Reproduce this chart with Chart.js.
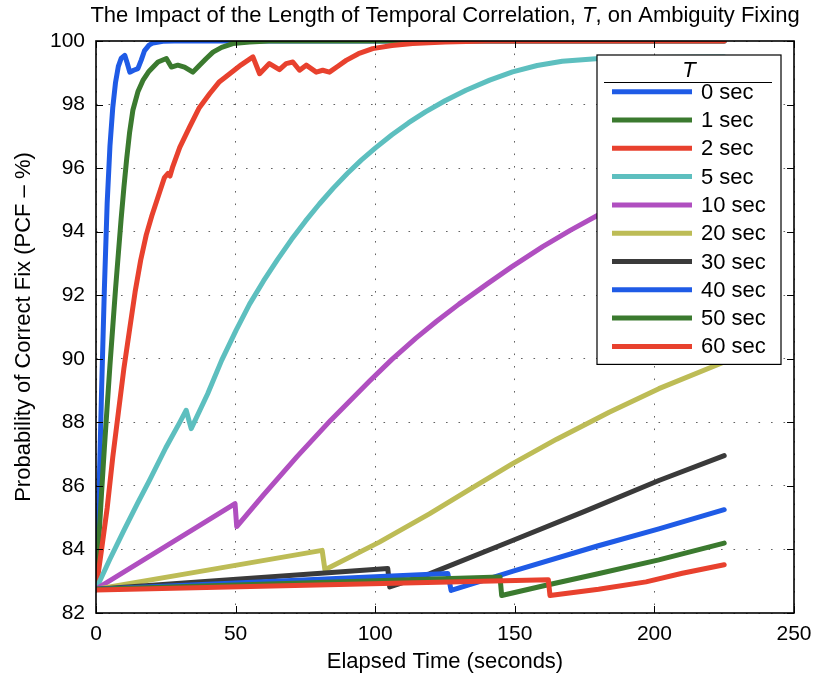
<!DOCTYPE html>
<html>
<head>
<meta charset="utf-8">
<script src="https://cdn.jsdelivr.net/npm/chart.js@4.4.1/dist/chart.umd.min.js"></script>
<style>
  html, body { margin: 0; padding: 0; background: #ffffff; }
  #wrap { width: 814px; height: 679px; }
</style>
</head>
<body>
<div id="wrap"><canvas id="chart" width="814" height="679"></canvas></div>
<script>
// Chart text
const titleParts = ['The Impact of the Length of Temporal Correlation, ', 'T', ', on Ambiguity Fixing'];
const xAxisTitle = 'Elapsed Time (seconds)';
const yAxisTitle = 'Probability of Correct Fix (PCF \u2013 %)';
const legendTitle = 'T';

// Tick values
const xTicks = [0, 50, 100, 150, 200, 250];
const yTicks = [82, 84, 86, 88, 90, 92, 94, 96, 98, 100];

// Correlation lengths (legend entries)
const seriesLabels = ['0 sec', '1 sec', '2 sec', '5 sec', '10 sec', '20 sec', '30 sec', '40 sec', '50 sec', '60 sec'];

// PCF (%) against elapsed time (s), as [time, pcf] pairs
const pcfT0 = [[0,82.75],[1,85.5],[2,89.0],[3,92.2],[4,94.9],[5,96.7],[6,97.9],[7,98.7],[8,99.2],[9,99.45],[10.3,99.55],[11.2,99.3],[12.1,99.02],[13.5,99.08],[15,99.13],[16.2,99.4],[17.4,99.7],[19,99.87],[20.4,99.94],[24,99.99],[28,100],[225,100]];
const pcfT1 = [[0,82.75],[1,84.3],[2,85.8],[3,87.2],[4,88.5],[5,89.8],[6,91.0],[7,92.2],[8,93.3],[9,94.4],[10,95.4],[11,96.3],[12,97.1],[13.2,97.82],[15,98.4],[16.8,98.76],[19,99.05],[22.2,99.34],[25.2,99.45],[27,99.18],[29.3,99.24],[31.7,99.18],[34.7,99.02],[37.1,99.24],[39.5,99.45],[41.9,99.65],[45,99.8],[49,99.92],[55,99.97],[62,100],[225,100]];
const pcfT2 = [[0,82.75],[2,84.0],[4,85.3],[6,86.9],[8,88.3],[10,89.7],[12,90.9],[14,92.1],[16,93.1],[18,93.9],[20,94.5],[22.8,95.25],[24.5,95.7],[25.8,95.83],[26.5,95.75],[27.5,96.05],[30,96.65],[33.5,97.29],[37,97.9],[40.7,98.34],[44,98.7],[47.9,98.97],[52,99.25],[56.2,99.5],[58.6,98.97],[62.1,99.29],[65.7,99.1],[68.1,99.29],[70.5,99.34],[72.9,99.08],[75.3,99.24],[78.9,99.02],[81.2,99.08],[83.6,99.02],[86.5,99.2],[89.6,99.39],[94,99.6],[99.1,99.76],[106,99.86],[113.4,99.92],[125,99.97],[140,100],[225,100]];
const pcfT5 = [[0,82.75],[5,83.7],[10,84.6],[15,85.47],[19.2,86.18],[25,87.2],[30,88.0],[32.3,88.38],[34.1,87.8],[40,88.9],[45,89.95],[50.2,90.9],[55,91.72],[60,92.45],[65,93.12],[70,93.75],[75,94.33],[80,94.87],[85,95.37],[90,95.83],[95,96.25],[100,96.63],[106,97.05],[112,97.43],[118,97.77],[125,98.12],[132.5,98.45],[141,98.77],[149.2,99.03],[158,99.23],[167,99.36],[179,99.44],[192,99.47],[210,99.49],[225,99.5]];
const pcfT10 = [[0,82.75],[49.8,85.44],[50.4,84.72],[60,85.72],[72,86.92],[84,88.06],[98,89.3],[106,89.98],[114.6,90.65],[122,91.18],[130,91.72],[140,92.35],[149,92.9],[160,93.53],[170,94.05],[179.4,94.5],[200,95.42],[225,96.45]];
const pcfT20 = [[0,82.75],[40,83.35],[81,83.97],[82,83.36],[101.5,84.23],[119.4,85.12],[134,85.9],[149.2,86.7],[165,87.47],[183.8,88.32],[201.6,89.06],[225,89.9]];
const pcfT30 = [[0,82.75],[104.5,83.4],[105.2,82.82],[119.4,83.23],[149.2,84.28],[175,85.2],[201.6,86.17],[225,86.95]];
const pcfT40 = [[0,82.75],[126,83.24],[127.2,82.71],[150,83.33],[179.3,84.1],[201.6,84.65],[225,85.25]];
const pcfT50 = [[0,82.75],[144.7,83.13],[145.3,82.55],[160,82.85],[179,83.22],[201.6,83.67],[225,84.2]];
const pcfT60 = [[0,82.72],[162,83.05],[162.6,82.55],[180,82.75],[197,82.98],[210,83.25],[225,83.52]];

const seriesData = [pcfT0, pcfT1, pcfT2, pcfT5, pcfT10, pcfT20, pcfT30, pcfT40, pcfT50, pcfT60];
const seriesColors = ['#1f5be6', '#3b7a2f', '#e8412e', '#5dbfbf', '#b04fc0', '#bdbc56', '#3a3a3a', '#1f5be6', '#3b7a2f', '#e8412e'];

const FONT = "'Liberation Sans', Arial, Helvetica, sans-serif";
Chart.defaults.font.family = FONT;
Chart.defaults.font.size = 21;
Chart.defaults.color = '#000000';

// Box around the axes with inward tick marks on all four sides
const axesFrame = {
  id: 'axesFrame',
  afterDatasetsDraw(chart) {
    const { ctx, chartArea: a, scales: { x, y } } = chart;
    ctx.save();
    ctx.strokeStyle = '#000000';
    ctx.lineWidth = 1;
    const len = 7;
    ctx.beginPath();
    xTicks.forEach(v => {
      const px = Math.round(x.getPixelForValue(v)) + 0.5;
      ctx.moveTo(px, a.bottom); ctx.lineTo(px, a.bottom - len);
      ctx.moveTo(px, a.top); ctx.lineTo(px, a.top + len);
    });
    yTicks.forEach(v => {
      const py = Math.round(y.getPixelForValue(v)) + 0.5;
      ctx.moveTo(a.left, py); ctx.lineTo(a.left + len, py);
      ctx.moveTo(a.right, py); ctx.lineTo(a.right - len, py);
    });
    ctx.stroke();
    ctx.lineWidth = 1.6;
    ctx.strokeRect(a.left, a.top, a.right - a.left, a.bottom - a.top);
    ctx.restore();
  }
};

// Boxed legend in the upper right of the plot, titled with an italic T
const boxLegend = {
  id: 'boxLegend',
  afterDatasetsDraw(chart) {
    const { ctx, chartArea: a } = chart;
    const right = a.right - 13;
    const top = a.top + 14;
    const width = 184;
    const rowH = 28.3;
    const firstRow = 36.7;
    const height = firstRow + rowH * (seriesLabels.length - 1) + 18;
    const left = right - width;
    ctx.save();
    ctx.fillStyle = '#ffffff';
    ctx.fillRect(left, top, width, height);
    ctx.strokeStyle = '#000000';
    ctx.lineWidth = 1.2;
    ctx.strokeRect(left, top, width, height);
    // title and its rule
    ctx.fillStyle = '#000000';
    ctx.font = 'italic 22px ' + FONT;
    ctx.textAlign = 'center';
    ctx.textBaseline = 'alphabetic';
    ctx.fillText(legendTitle, left + width / 2, top + 22);
    ctx.lineWidth = 1;
    ctx.beginPath();
    ctx.moveTo(left + 7, top + 27.5);
    ctx.lineTo(right - 9, top + 27.5);
    ctx.stroke();
    // entries
    ctx.font = '22px ' + FONT;
    ctx.textAlign = 'left';
    ctx.textBaseline = 'middle';
    chart.data.datasets.forEach((ds, i) => {
      const yy = top + firstRow + i * rowH;
      ctx.strokeStyle = ds.borderColor;
      ctx.lineWidth = 5;
      ctx.lineCap = 'butt';
      ctx.beginPath();
      ctx.moveTo(left + 15, yy);
      ctx.lineTo(left + 95, yy);
      ctx.stroke();
      ctx.fillStyle = '#000000';
      ctx.fillText(ds.label, left + 104, yy + 1);
    });
    ctx.restore();
  }
};

// Chart title with the italic symbol T
const mixedTitle = {
  id: 'mixedTitle',
  afterDraw(chart) {
    const { ctx, chartArea: a } = chart;
    const fonts = ['22px ' + FONT, 'italic 22px ' + FONT, '22px ' + FONT];
    ctx.save();
    let total = 0;
    const widths = titleParts.map((t, i) => { ctx.font = fonts[i]; const w = ctx.measureText(t).width; total += w; return w; });
    let xx = (a.left + a.right) / 2 - total / 2;
    ctx.fillStyle = '#000000';
    ctx.textAlign = 'left';
    ctx.textBaseline = 'alphabetic';
    titleParts.forEach((t, i) => { ctx.font = fonts[i]; ctx.fillText(t, xx, 22); xx += widths[i]; });
    ctx.restore();
  }
};

const datasets = seriesLabels.map((label, i) => ({
  label,
  data: seriesData[i],
  borderColor: seriesColors[i],
  backgroundColor: seriesColors[i],
  borderWidth: 5,
  pointRadius: 0,
  fill: false,
  tension: 0,
  borderJoinStyle: 'round',
  borderCapStyle: 'round',
  order: seriesLabels.length - i
}));

const gridStyle = {
  color: 'rgba(60,60,60,0.8)',
  lineWidth: 1,
  drawTicks: false
};
const dottedBorder = { display: false, dash: [1.6, 10.9] };

new Chart(document.getElementById('chart'), {
  type: 'line',
  data: { datasets },
  plugins: [axesFrame, boxLegend, mixedTitle],
  options: {
    responsive: false,
    animation: false,
    devicePixelRatio: 1,
    layout: { padding: { left: 0, right: 20, top: 41, bottom: 0 } },
    plugins: { legend: { display: false }, tooltip: { enabled: false }, title: { display: false } },
    scales: {
      x: {
        type: 'linear',
        min: 0, max: 250,
        afterBuildTicks: s => { s.ticks = xTicks.map(v => ({ value: v })); },
        afterFit: s => { s.height = 66; s.paddingLeft = 0; s.paddingRight = 0; },
        grid: gridStyle,
        border: dottedBorder,
        ticks: { padding: 9, font: { size: 21 }, color: '#000', maxRotation: 0 },
        title: { display: true, text: xAxisTitle, font: { size: 22 }, color: '#000', padding: { top: 0, bottom: 4 } }
      },
      y: {
        type: 'linear',
        min: 82, max: 100,
        afterBuildTicks: s => { s.ticks = yTicks.map(v => ({ value: v })); },
        afterFit: s => { s.width = 96; s.paddingTop = 0; s.paddingBottom = 0; },
        grid: gridStyle,
        border: dottedBorder,
        ticks: { padding: 11, font: { size: 21 }, color: '#000' },
        title: { display: true, text: yAxisTitle, font: { size: 22 }, color: '#000', padding: { top: 11, bottom: 0 } }
      }
    }
  }
});
</script>
</body>
</html>
